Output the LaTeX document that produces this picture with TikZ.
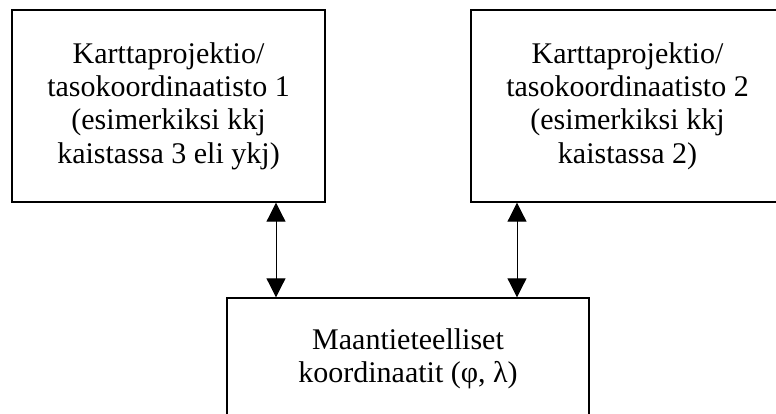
\documentclass[tikz,border=0pt]{standalone}
\usepackage{fontspec}
\setmainfont{Liberation Serif}
\usetikzlibrary{arrows.meta}
\begin{document}
\begin{tikzpicture}[x=1pt,y=-1pt,
  box/.style={draw,line width=1.4pt,align=center,inner sep=0pt,
    font=\fontsize{30}{33.4}\selectfont},
  link/.style={{Triangle[width=19pt,length=19pt]}-{Triangle[width=19pt,length=19pt]},line width=1pt}]
\useasboundingbox (0,0) rectangle (776,414);
\clip (0,0) rectangle (776,414);
% the two plane systems
\node[box,minimum width=313pt,minimum height=192pt] (proj1) at (168.5,106)
  {Karttaprojektio/\\tasokoordinaatisto 1\\(esimerkiksi kkj\\kaistassa 3 eli ykj)};
\node[box,minimum width=313pt,minimum height=192pt] (proj2) at (627.5,106)
  {Karttaprojektio/\\tasokoordinaatisto 2\\(esimerkiksi kkj\\kaistassa 2)};
% geographic coordinates
\node[box,minimum width=362pt,minimum height=122pt] (geo) at (408,359)
  {Maantieteelliset\\koordinaatit (φ, λ)};
\coordinate (a1) at (276,0);
\coordinate (a2) at (517,0);
\draw[link] (proj1.south -| a1) -- (geo.north -| a1);
\draw[link] (proj2.south -| a2) -- (geo.north -| a2);
\end{tikzpicture}
\end{document}
